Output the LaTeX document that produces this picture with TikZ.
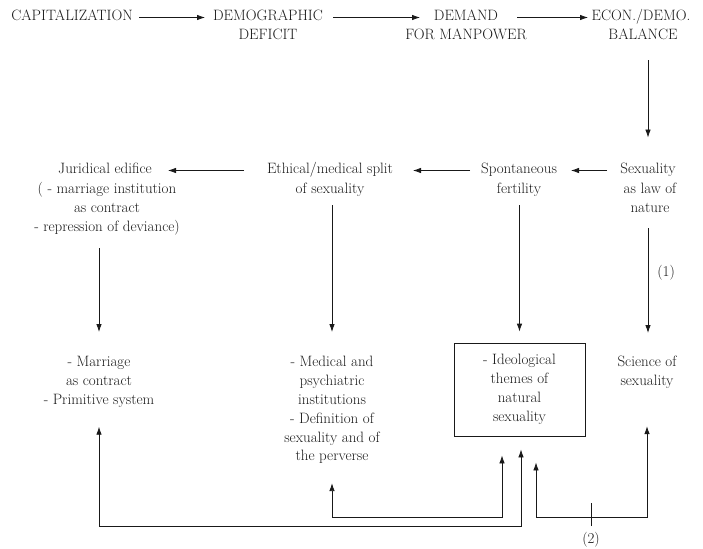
\documentclass[tikz,border=0pt]{standalone}
\usepackage{fontspec}
\usetikzlibrary{positioning, arrows.meta, calc}

\begin{document}
\begin{tikzpicture}[x=1pt, y=-1pt, line width=0.8pt, black!90,
        every node/.style={font=\fontsize{15}{18.8}\selectfont, align=center, inner sep=0pt},
        head/.style={text height=10pt, text depth=3pt},
        block/.style={anchor=north},
        arr/.style={-{Latex[length=8pt, width=5.5pt]}},
        both/.style={{Latex[length=8pt, width=5.5pt]}-{Latex[length=8pt, width=5.5pt]}}]
    \useasboundingbox (0,0) rectangle (703,548);
    % top row
    \node[head] (cap) at (72,17.5) {CAPITALIZATION};
    \node[head] (demo) at (268,17.5) {DEMOGRAPHIC};
    \node[head] (demob) at (268,36.5) {DEFICIT};
    \node[head] (dem) at (466,17.5) {DEMAND};
    \node[head] (demb) at (466,36.5) {FOR MANPOWER};
    \node[head] (econ) at (641,17.5) {ECON./DEMO.};
    \node[head] (econb) at (643,36.5) {BALANCE};
    % middle row
    \node[head] (jur) at (105,170.5) {Juridical edifice};
    \node[block] (jurb) at (107,182) {( - marriage institution\\as contract\\- repression of deviance)};
    \node[head] (eth) at (330,170.5) {Ethical/medical split};
    \node[head] (ethb) at (330,189.5) {of sexuality};
    \node[head] (spo) at (519,170.5) {Spontaneous};
    \node[head] (spob) at (519,189.5) {fertility};
    \node[head] (sex) at (648,170.5) {Sexuality};
    \node[block] (sexb) at (650,183) {as law of\\nature};
    % bottom row
    \node[block] (marr) at (99,356) {- Marriage\\as contract\\- Primitive system};
    \node[block] (med) at (332,356) {- Medical and\\psychiatric\\institutions\\- Definition of\\sexuality and of\\the perverse};
    \node[draw, minimum width=131pt, minimum height=93pt] (box) at (519.5,389.5) {- Ideological\\themes of\\natural\\sexuality};
    \node[block] (sci) at (647,356) {Science of\\sexuality};
    \node (two) at (591,540) {(2)};
    % horizontal arrows
    \draw[arr] ([xshift=67pt]cap.center) -- ([xshift=-63pt]demo.center);
    \draw[arr] ([xshift=65pt]demo.center) -- ([xshift=-46pt]dem.center);
    \draw[arr] ([xshift=51pt]dem.center) -- ([xshift=-53pt]econ.center);
    \draw[arr] ([xshift=-41pt]sex.center) -- ([xshift=52pt]spo.center);
    \draw[arr] ([xshift=-49pt]spo.center) -- ([xshift=83pt]eth.center);
    \draw[arr] ([xshift=-86pt]eth.center) -- ([xshift=63pt]jur.center);
    % vertical arrows
    \draw[arr, shorten <=17pt, shorten >=26pt] (econb.south -| sex.north) -- (sex.north);
    \draw[arr, shorten <=13pt, shorten >=24pt] (jurb.south -| marr.north) -- (marr.north);
    \draw[arr, shorten <=9pt, shorten >=24pt] (ethb.south -| med.north) -- (med.north);
    \draw[arr, shorten <=9pt, shorten >=11pt] (spob.south -| box.north) -- (box.north);
    \draw[arr, shorten <=15pt, shorten >=23pt] (sexb.south -| sex) -- (sex |- sci.north)
        node[pos=0.42, right=9pt] {(1)};
    % links under the box
    \draw[both] ([xshift=1.5pt, yshift=-13pt]box.south) -- ++(0,77) -| ([yshift=-19pt]marr.south);
    \draw[both] ([xshift=-17.5pt, yshift=-19pt]box.south) -- ++(0,62) -| ([yshift=-19pt]med.south);
    \draw[both] ([xshift=16.5pt, yshift=-26pt]box.south) -- ++(0,55) -| ([yshift=-37pt]sci.south);
    \draw[shorten <=6pt] (two.north) -- ++(0,-29);
\end{tikzpicture}
\end{document}
